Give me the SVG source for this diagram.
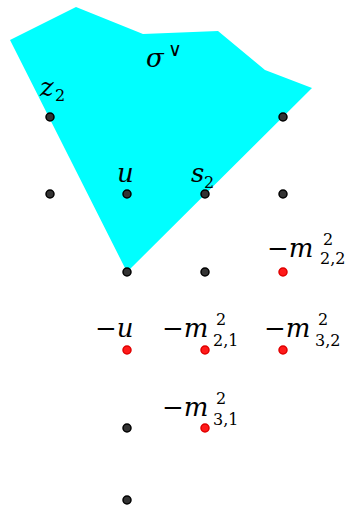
<svg xmlns="http://www.w3.org/2000/svg" width="347" height="505" viewBox="0 0 347 505">
<style>
.t{font-family:"DejaVu Serif",serif;font-style:italic;font-size:26px;fill:#000}
.r{font-style:normal}
.s{font-family:"DejaVu Serif",serif;font-style:normal;font-size:16px;fill:#000}
.v{font-family:"DejaVu Sans",sans-serif;font-size:19px;fill:#000}
.b{fill:#333;stroke:#000;stroke-width:1.5}
.d{fill:#ff1a1a;stroke:#e00000;stroke-width:1.5}
</style>
<rect width="347" height="505" fill="#fff"/>
<g id="cone">
<polygon points="10,40 76,7 143,34 218,31 265,70 312,88 127,272" fill="#00ffff"/>
<text class="t" x="146" y="67">σ</text><text class="v" x="168" y="56">∨</text>
</g>
<g id="z2"><circle class="b" cx="50" cy="117" r="4"/><text class="t" x="40" y="96">z</text><text class="s" x="55" y="101">2</text></g>
<g id="p283_117"><circle class="b" cx="283" cy="117" r="4"/></g>
<g id="p50_194"><circle class="b" cx="50" cy="194" r="4"/></g>
<g id="u"><circle class="b" cx="127" cy="194" r="4"/><text class="t" x="117" y="182">u</text></g>
<g id="s2"><circle class="b" cx="205" cy="194" r="4"/><text class="t" x="191" y="182">s</text><text class="s" x="204" y="188">2</text></g>
<g id="p283_194"><circle class="b" cx="283" cy="194" r="4"/></g>
<g id="p127_272"><circle class="b" cx="127" cy="272" r="4"/></g>
<g id="p205_272"><circle class="b" cx="205" cy="272" r="4"/></g>
<g id="m22"><circle class="d" cx="283" cy="272" r="4"/><text class="t" x="267" y="257"><tspan class="r">−</tspan>m</text><text class="s" x="323" y="245">2</text><text class="s" x="320" y="264">2,2</text></g>
<g id="mu"><circle class="d" cx="127" cy="350" r="4"/><text class="t" x="95" y="337"><tspan class="r">−</tspan>u</text></g>
<g id="m21"><circle class="d" cx="205" cy="350" r="4"/><text class="t" x="162" y="337"><tspan class="r">−</tspan>m</text><text class="s" x="216" y="325">2</text><text class="s" x="213" y="346">2,1</text></g>
<g id="m32"><circle class="d" cx="283" cy="350" r="4"/><text class="t" x="264" y="337"><tspan class="r">−</tspan>m</text><text class="s" x="318" y="325">2</text><text class="s" x="315" y="346">3,2</text></g>
<g id="p127_428"><circle class="b" cx="127" cy="428" r="4"/></g>
<g id="m31"><circle class="d" cx="205" cy="428" r="4"/><text class="t" x="162" y="416"><tspan class="r">−</tspan>m</text><text class="s" x="216" y="404">2</text><text class="s" x="213" y="425">3,1</text></g>
<g id="p127_500"><circle class="b" cx="127" cy="500" r="4"/></g>
<g id="connectors"/>
</svg>
